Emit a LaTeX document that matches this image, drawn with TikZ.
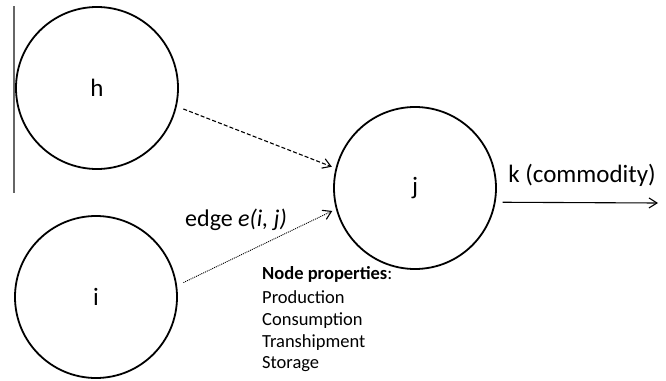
\documentclass[tikz,border=0pt]{standalone}
\usepackage{fontspec}
\setmainfont{Carlito}
\usetikzlibrary{arrows.meta}
\tikzset{
  vertex/.style={circle, draw, line width=1.8pt, minimum size=162pt, inner sep=0pt,
                 font=\fontsize{25}{30}\selectfont},
  flow/.style={line width=1.1pt, -{Straight Barb[length=8pt, width=10pt, line width=1.1pt]}},
  dashflow/.style={flow, dash pattern=on 4pt off 2.2pt},
  dotflow/.style={flow, line width=0.9pt, dash pattern=on 1pt off 1pt},
  biglabel/.style={font=\fontsize{25}{30}\selectfont, inner sep=0pt},
  proplabel/.style={font=\fontsize{18.5}{21.8}\selectfont, inner sep=0pt, anchor=base west}
}
\begin{document}
\begin{tikzpicture}[x=1pt, y=-1pt]
  \useasboundingbox (0,0) rectangle (666,380);

  % left margin rule
  \coordinate (rtop) at (14,6);
  \coordinate (rbot) at (14,193);
  \draw[line width=1.2pt, black!60] (rtop) -- (rbot);

  % vertices
  \node[vertex] (h) at (97,88)  {h};
  \node[vertex] (i) at (96,297) {i};
  \node[vertex] (j) at (415,188) {j};

  % edges into j
  \draw[dashflow, shorten <=7pt, shorten >=4pt] (h.-13) -- (j.166.5);
  \draw[dotflow,  shorten <=7pt, shorten >=4pt] (i.8.5) -- (j.195);

  % outgoing commodity
  \coordinate (kend) at (658,203);
  \draw[flow, shorten <=7pt] (j.-10.6) -- (kend);
  \node[biglabel, anchor=base] (klab) at (582,182) {k (commodity)};

  % edge label
  \node[biglabel, anchor=base west, font=\fontsize{24}{29}\selectfont] (elab) at (185,226) {edge \textit{e(i, j)}};

  % node properties list
  \node[proplabel] (ptitle) at (262,279) {\textbf{Node properties}:};
  \node[proplabel] (p1) at (262,303) {Production};
  \node[proplabel] (p2) at (262,325) {Consumption};
  \node[proplabel] (p3) at (262,347) {Transhipment};
  \node[proplabel] (p4) at (262,368) {Storage};
\end{tikzpicture}
\end{document}
